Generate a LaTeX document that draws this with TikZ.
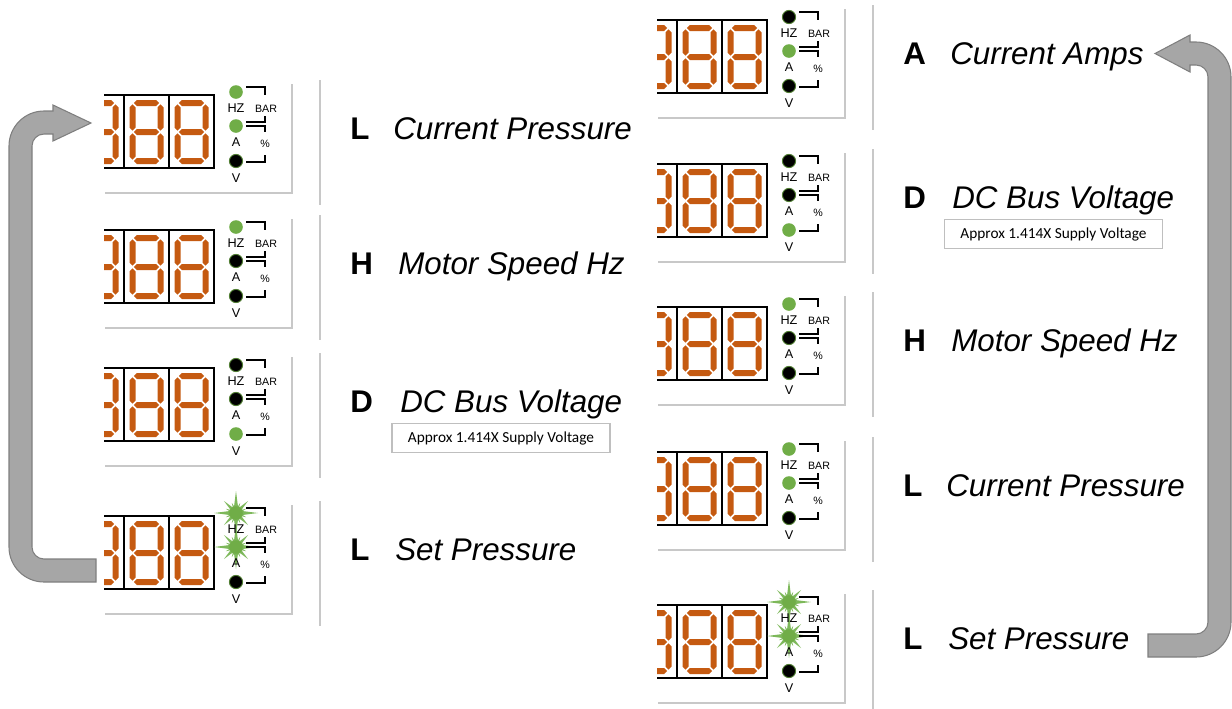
\documentclass[tikz,border=0pt]{standalone}
\usepackage{fontspec}
\setmainfont{Liberation Sans}
\newfontfamily\calibfont{Carlito}
\definecolor{segcol}{HTML}{C55A11}
\definecolor{ledg}{HTML}{70AD47}
\definecolor{ledgd}{HTML}{507E32}
\definecolor{framecol}{HTML}{C8C8C8}
\definecolor{arrowfill}{HTML}{A6A6A6}
\definecolor{arrowline}{HTML}{7F7F7F}
\definecolor{starcol}{HTML}{7DB85A}
\definecolor{boxline}{HTML}{BFBFBF}
\tikzset{
 seg/.style={fill=segcol},
 dframe/.style={draw=black, line width=1.9pt, line join=miter},
 ddiv/.style={draw=black, line width=1.5pt},
 shadowline/.style={draw=framecol, line width=2.2pt},
 sepline/.style={draw=framecol, line width=2.2pt},
 brk/.style={draw=black, line width=1.3pt},
 ledlbl/.style={font=\fontsize{9.5pt}{10pt}\selectfont, inner sep=0pt},
 smlbl/.style={font=\fontsize{8pt}{9pt}\selectfont, inner sep=0pt},
 keyletter/.style={font=\fontsize{23.5pt}{28pt}\selectfont\bfseries, anchor=base west, inner sep=0pt},
 keytext/.style={font=\fontsize{23.5pt}{28pt}\selectfont\itshape, anchor=base west, inner sep=0pt},
 notebox/.style={draw=boxline, line width=0.8pt, fill=white, minimum width=163.5pt, minimum height=21.75pt, inner sep=0pt, font=\calibfont\fontsize{11.5pt}{13pt}\selectfont},
 uarrow/.style={fill=arrowfill, draw=arrowline, line width=0.8pt},
 starspike/.style={fill=starcol},
}
\newcommand\sgH[3]{\fill[seg] (#1,#3) -- (#1+3,#3-3) -- (#2-3,#3-3) -- (#2,#3) -- (#2-3,#3+3) -- (#1+3,#3+3) -- cycle;}
\newcommand\sgV[3]{\fill[seg] (#1,#2) -- (#1+3,#2+3) -- (#1+3,#3-3) -- (#1,#3) -- (#1-3,#3-3) -- (#1-3,#2+3) -- cycle;}
\newcommand\sevenseg[2]{\begin{scope}[shift={(#1,#2)}]
 \sgH{9.8}{35.2}{8}\sgH{9.8}{35.2}{37}\sgH{9.8}{35.2}{66}
 \sgV{8.5}{9.3}{35.7}\sgV{36.5}{9.3}{35.7}\sgV{8.5}{38.3}{64.7}\sgV{36.5}{38.3}{64.7}
\end{scope}}
\newcommand\ledon[2]{\fill[ledg] (#1,#2) circle (6.8);}
\newcommand\ledoff[2]{\filldraw[fill=black, draw=ledgd, line width=0.7pt] (#1,#2) circle (6.6);}
\newcommand\ledstar[2]{%
 \foreach \a/\r/\w in {0/22/2.8,90/22/2.8,180/22/2.8,270/22/2.8,45/17/2.5,135/17/2.5,225/17/2.5,315/17/2.5,22.5/11/2,67.5/11/2,112.5/11/2,157.5/11/2,202.5/11/2,247.5/11/2,292.5/11/2,337.5/11/2}
  {\fill[starspike, shift={(#1,#2)}] (\a:\r) -- (\a+90:\w) -- (\a-90:\w) -- cycle;}
 \fill[ledg] (#1,#2) circle (6.8);}
\newcommand\dpanel[6]{%
\begin{scope}[shift={(#1,#2)}]
 \draw[sepline] (320,-12) -- (320,113);
 \draw[shadowline] (105,101) -- (292,101) -- (292,-8);
 \begin{scope}
  \clip (104,-20) rectangle (230,90);
  \sevenseg{79}{3}\sevenseg{124}{3}\sevenseg{169}{3}
  \draw[dframe] (60,3) -- (214,3) -- (214,76) -- (60,76);
  \draw[ddiv] (124,3) -- (124,76) (169,3) -- (169,76);
 \end{scope}
 #3{236}{0}#4{236}{34}#5{236}{69}
 \draw[brk] (246,-5) -- (265,-5) -- (265,3);
 \draw[brk] (265,24) -- (265,30) -- (246,30);
 \draw[brk] (246,34) -- (265,34) -- (265,40);
 \draw[brk] (265,63) -- (265,70) -- (246,70);
 \node[ledlbl] (#6hz) at (236,16) {HZ};
 \node[ledlbl] (#6a) at (236,50) {A};
 \node[ledlbl] (#6v) at (236,86) {V};
 \node[smlbl] (#6bar) at (266,17) {BAR};
 \node[smlbl] (#6pc) at (265,52) {\%};
\end{scope}}
\begin{document}
\begin{tikzpicture}[x=0.75pt, y=-0.75pt]
\useasboundingbox (0,0) rectangle (1232,708);
% left column
\dpanel{0}{92}{\ledon}{\ledon}{\ledoff}{pa}
\dpanel{0}{227}{\ledon}{\ledoff}{\ledoff}{pb}
\dpanel{0}{365}{\ledoff}{\ledoff}{\ledon}{pc}
\dpanel{0}{513}{\ledstar}{\ledstar}{\ledoff}{pd}
% right column
\dpanel{553}{17}{\ledoff}{\ledon}{\ledoff}{ra}
\dpanel{553}{161}{\ledoff}{\ledoff}{\ledon}{rb}
\dpanel{553}{304}{\ledon}{\ledoff}{\ledoff}{rc}
\dpanel{553}{449}{\ledon}{\ledon}{\ledoff}{rd}
\dpanel{553}{602}{\ledstar}{\ledstar}{\ledoff}{re}
% labels left
\node[keyletter] (la) at (350,139) {L};
\node[keytext] (lta) at (393,139) {Current Pressure};
\node[keyletter] (lb) at (350,274) {H};
\node[keytext] (ltb) at (398,274) {Motor Speed Hz};
\node[keyletter] (lc) at (350,412) {D};
\node[keytext] (ltc) at (400,412) {DC Bus Voltage};
\node[notebox] (nl) at (501,438) {Approx 1.414X Supply Voltage};
\node[keyletter] (ld) at (350,560) {L};
\node[keytext] (ltd) at (395,560) {Set Pressure};
% labels right
\node[keyletter] (ra) at (903,64) {A};
\node[keytext] (rta) at (950,64) {Current Amps};
\node[keyletter] (rb) at (903,208) {D};
\node[keytext] (rtb) at (952,208) {DC Bus Voltage};
\node[notebox] (nr) at (1053.5,234) {Approx 1.414X Supply Voltage};
\node[keyletter] (rc) at (903,351) {H};
\node[keytext] (rtc) at (951,351) {Motor Speed Hz};
\node[keyletter] (rd) at (903,496) {L};
\node[keytext] (rtd) at (946,496) {Current Pressure};
\node[keyletter] (re) at (903,649) {L};
\node[keytext] (rte) at (948,649) {Set Pressure};
% left U-turn arrow
\filldraw[uarrow] (96,582) -- (44,582) arc (90:180:35) -- (9,146) arc (180:270:35)
  -- (53,111) -- (53,105) -- (91,123) -- (53,141) -- (53,134) -- (44,134)
  arc (270:180:12) -- (32,547) arc (180:90:12) -- (96,559) -- cycle;
% right U-turn arrow
\filldraw[uarrow] (1148,657) -- (1196,657) arc (90:0:35) -- (1231,77) arc (0:-90:35)
  -- (1190,42) -- (1190,35) -- (1155,53.5) -- (1190,72) -- (1190,65) -- (1196,65)
  arc (-90:0:12) -- (1208,622) arc (0:90:12) -- (1148,634) -- cycle;
\end{tikzpicture}
\end{document}
